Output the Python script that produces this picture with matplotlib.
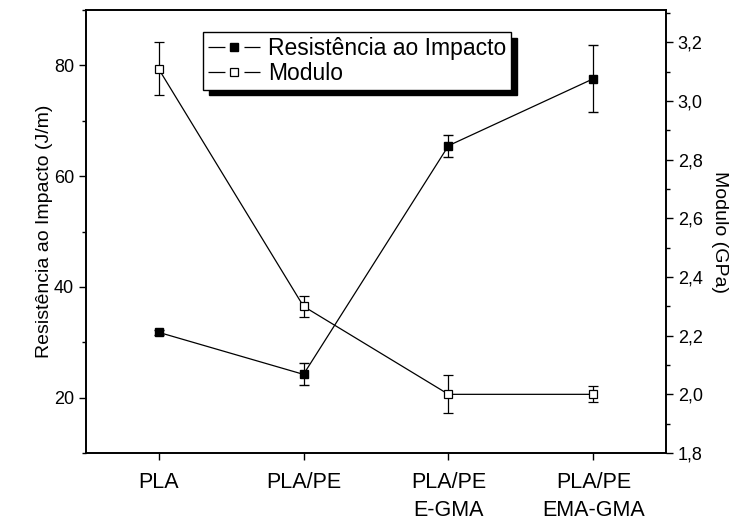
import matplotlib
matplotlib.use("Agg")
import matplotlib.pyplot as plt
from matplotlib.ticker import FuncFormatter, MultipleLocator
from matplotlib.lines import Line2D

plt.rcParams['font.family'] = ['Liberation Sans', 'DejaVu Sans']
plt.rcParams['lines.scale_dashes'] = False

samples = ["PLA", "PLA/PE", "PLA/PE\nE-GMA", "PLA/PE\nEMA-GMA"]
x = [1, 2, 3, 4]
impacto = [31.8, 24.2, 65.5, 77.6]
impacto_err = [0.5, 2.0, 2.0, 6.0]
modulo = [3.11, 2.30, 2.00, 2.00]
modulo_err = [0.09, 0.035, 0.065, 0.027]

fig = plt.figure(figsize=(7.39, 5.21), dpi=100)
ax = fig.add_axes([0.1164, 0.1305, 0.7848, 0.8503])
ax2 = ax.twinx()

ax.errorbar(x, impacto, yerr=impacto_err, color="black", lw=0.9, marker="s",
            ms=6, mfc="black", mec="black", capsize=3.6, elinewidth=0.9)
ax2.errorbar(x, modulo, yerr=modulo_err, color="black", lw=0.9, marker="s",
             ms=6, mfc="white", mec="black", mew=0.9, capsize=3.6, elinewidth=0.9)

ax.set_xlim(0.5, 4.5)
ax.set_ylim(10, 90)

ax.set_xticks(x)
ax.set_xticklabels(samples, fontsize=15.5, linespacing=1.4)
ax.yaxis.set_major_locator(MultipleLocator(20))
ax.yaxis.set_minor_locator(MultipleLocator(10))
ax2.yaxis.set_major_locator(MultipleLocator(0.2))
ax2.yaxis.set_minor_locator(MultipleLocator(0.1))
ax2.set_ylim(1.8, 3.31)
ax2.yaxis.set_major_formatter(FuncFormatter(lambda v, p: f"{v:.1f}".replace(".", ",")))

for a in (ax, ax2):
    a.tick_params(which="major", direction="out", length=5, width=1, labelsize=13)
    a.tick_params(which="minor", direction="out", length=3, width=1)
    for s in a.spines.values():
        s.set_linewidth(1.2)
ax.tick_params(axis="x", labelsize=15.5, pad=9)

ax.set_ylabel("Resistência ao Impacto (J/m)", fontsize=14, labelpad=1)
ax2.set_ylabel("Modulo (GPa)", fontsize=14, rotation=270, labelpad=18)

h1 = Line2D([], [], color="black", lw=0.9, linestyle=(0, (12.2, 13.7)), marker="s",
            ms=5.5, mfc="black", mec="black")
h2 = Line2D([], [], color="black", lw=0.9, linestyle=(0, (12.2, 13.7)), marker="s",
            ms=5.5, mfc="white", mec="black", mew=0.9)
leg = ax2.legend([h1, h2], ["Resistência ao Impacto", "Modulo"], loc="upper left",
                 bbox_to_anchor=(0.2017, 0.95), borderaxespad=0, fontsize=16.5,
                 fancybox=False, framealpha=1, edgecolor="black", handlelength=2.3,
                 handletextpad=0.35, borderpad=0.2, labelspacing=0.1,
                 shadow={"ox": 4, "oy": -4, "color": "black", "alpha": 1})
leg.get_frame().set_linewidth(1.0)

fig.savefig("out.png", dpi=100)
